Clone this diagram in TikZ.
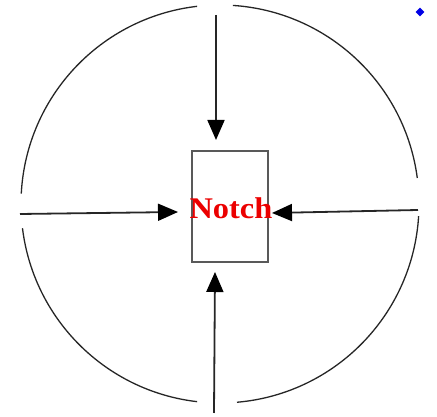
\documentclass[tikz,border=0pt]{standalone}
\usepackage{fontspec}
\setmainfont{Liberation Serif}
\usetikzlibrary{arrows.meta,shapes.geometric}
\tikzset{
  rim/.style={line width=1.3pt, black!85},
  push/.style={line width=1.8pt, black!85, -{Triangle[length=20pt,width=17pt,color=black]}},
  notchbox/.style={draw=black!65, line width=1.6pt, minimum width=76pt, minimum height=111pt, inner sep=0pt},
  notchtext/.style={text=red!92!black, font=\bfseries\fontsize{30}{30}\selectfont, inner sep=0pt, xscale=1.08},
  mark dot/.style={diamond, fill=blue!90!black, inner sep=0pt, minimum size=9pt}
}
\begin{document}
\begin{tikzpicture}[x=1pt,y=1pt]
\useasboundingbox (0,0) rectangle (437,417);
% circle arcs with gaps
\coordinate (c) at (220,213);
\draw[rim] ([shift={(7.5:199)}]c) arc[start angle=7.5, end angle=86.3, radius=199];
\draw[rim] ([shift={(96.6:199)}]c) arc[start angle=96.6, end angle=177, radius=199];
\draw[rim] ([shift={(187:199)}]c) arc[start angle=187, end angle=263.4, radius=199];
\draw[rim] ([shift={(274.9:199)}]c) arc[start angle=274.9, end angle=356.5, radius=199];
% notch
\node[notchbox] (box) at (230,210.5) {};
\node[notchtext] (label) at (231,209) {Notch};
% arrow ends
\coordinate (ts) at (216,402);
\coordinate (te) at (216,277);
\coordinate (ls) at (20,203);
\coordinate (le) at (178,205);
\coordinate (rs) at (418,207);
\coordinate (re) at (272,204);
\coordinate (bs) at (214,4);
\coordinate (be) at (215,145);
\draw[push] (ts) -- (te);
\draw[push] (ls) -- (le);
\draw[push] (rs) -- (re);
\draw[push] (bs) -- (be);
% blue marker
\node[mark dot] (dot) at (420,405) {};
\end{tikzpicture}
\end{document}
